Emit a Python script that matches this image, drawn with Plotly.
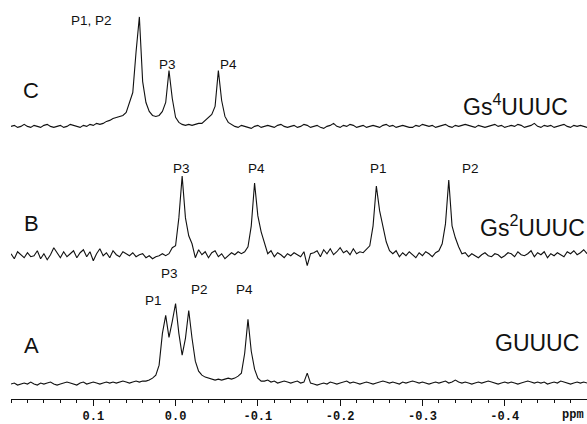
import numpy as np
import plotly.graph_objects as go

# ---- data -----------------------------------------------------------------
# Spectra sampled on a uniform chemical-shift grid (ppm), starting at 0.20 and
# stepping 0.004 ppm. Intensities are relative to each trace's own baseline.
PPM_START = 0.20
PPM_STEP = 0.004

trace_names = ["C", "B", "A"]
sequence_labels = ["Gs<sup>4</sup>UUUC", "Gs<sup>2</sup>UUUC", "GUUUC"]

intensity_C = [
    0, 1, -1, 0, 2, 0, -1, 1, 0, -1, 1, 2, 0, -1, 0, 1, -1, 0, 2, 1,
    0, -1, 1, 0, 2, 1, 3, 2,
    3, 5, 6, 8, 9, 10, 11, 14, 24, 34,
    75, 110, 45, 24, 15, 11, 10, 11, 15, 24,
    56, 28, 9, 4, 2, 1, 2, 1, 2, 3,
    3, 6, 10, 12, 20, 56, 26, 10, 4, 2,
    0, -1, 1, 0, -1, -2, 0, 1, -1, 0, 1, 0, -1, 1, 2, 0, -1, 0, 1, -1,
    0, 2, 1, -1, 0, 1, -1, -2, 0, 1, 3, 0, -1, 1, 0, 2, 1, -1, 0, 1,
    -1, 0, 1, 0, -1, 1, 2, 0, 1, -1, 0, 1, 0, -1, -1, 1, 0, 2, 1, 0,
    1, -1, 0, 1, 2, 0, -1, 1, 0, 1, 2, 1, 0, -1, 1, 0, -1, 0, 1, 2,
    0, 1, -1, 0, 1, 0, 2, 1, -1, 0, 1, 3, 0, -1, 1, 0, 1, -1, 0, 1,
    2, 0, -1, 1, 0, 1, 0, -1,
]

intensity_B = [
    2, -3, 4, 1, -2, 3, -1, 0, 5, -3, 2, -4, 1, 8, 3, -2, 4, -1, 2, 5,
    -2, 3, 6, -1, 4, -5, 2, 7, 0, 3, -2, 5, 1, -1, 4, 2, 0, 3, -1, 1,
    2, -2, 0, -3, -1, 0, 2,
    0, 2, 8, 10, 38, 80, 38, 20, 12, -2,
    6, 1, 4, -2, 3, 5, -1, 2, -3, 0, 3, 1, 4, 2,
    4, 9, 30, 73, 40, 24, 12, 2,
    5, -1, 3, 1, -2, 2, 0, 3, 1, -1, 4, -10, 2,
    3, 5, -1, 6, 2, 7, 1, 4, 8, 3, 5, 1, 7, 2, 4, 3,
    6, 10, 30, 70, 45, 28, 14, 5,
    2, 5, -1, 3, 0, 4, 1, -2, 3, 0, 4, 2, -1, 3,
    5, 12, 32, 76, 30, 18, 9, 2,
    3, -1, 2, 0, -2, 1, 3, 0, -1, 2, 1, -2, 0, 3, 2, -1, 4, 1, 0, 2,
    5, -1, 3, 1, 4, -2, 2, 0, 3, 1, -1, 4, 2, 5, 1, 3, 6, 2,
]

intensity_A = [
    -1, 0, -2, -1, 0, -1, 1, -1, -2, 0, -1, 0, 1, -1, -2, -1, 0, 1, 0, -1,
    -2, 0, 1, -1, 0, 1, 0, -1, 0, 1, 0, 1, 0, 1, 2, 1, 0, 1, 2, 1,
    2, 2, 3, 5, 8, 18, 50, 68, 46, 62,
    80, 50, 28, 45, 73, 45, 22, 12, 8, 6,
    5, 4, 3, 4, 3, 4, 5, 4, 5, 7,
    10, 30, 64, 32, 14, 5, 2,
    2, 3, 1, 2, 0, 1, 2, 1, 0, 1, 2, 0, 1,
    10,
    0, -1, -2, -1, 0, -1, 1, 0, -1, 0, 1, 2, 0, 1, 0, -1, 0, 1, 0, -1,
    0, 1, 2, 1, 0, 1, 0, -1, 1, 0, 1, 2, 1, 0, 1, 0, -1, 0, 1, 0,
    1, 2, 0, 1, 3, 1, 0, 1, 0, -1, 0, 1, 0, 1, 2, 1, 0, -1, 0, 1,
    0, 1, 0, -1, 0, 1, 2, 1, 0, 1, 0, 1, -1, 0, 1, 0, 2, 1, 0, -1,
    0, 1, 0, 1, 0,
]

# peak assignment labels: (label, ppm, label height above trace baseline)
peak_labels_C = ["P1, P2", "P3", "P4"]
peak_ppm_C = [0.1027, 0.0094, -0.0648]
peak_lbl_h_C = [106, 62, 62]

peak_labels_B = ["P3", "P4", "P1", "P2"]
peak_ppm_B = [-0.0077, -0.098, -0.2467, -0.3588]
peak_lbl_h_B = [88, 88, 88, 88]

peak_labels_A = ["P3", "P1", "P2", "P4"]
peak_ppm_A = [0.0073, 0.0267, -0.0292, -0.0838]
peak_lbl_h_A = [110, 83, 94, 94]

tick_vals = [0.1, 0.0, -0.1, -0.2, -0.3, -0.4]
tick_text = ["0.1", "0.0", "-0.1", "-0.2", "-0.3", "-0.4"]

# ---- layout constants ------------------------------------------------------
offsets = {"C": 274, "B": 144, "A": 16}
spectra = {"C": intensity_C, "B": intensity_B, "A": intensity_A}
for k, v in spectra.items():
    assert len(v) == 176, (k, len(v))

SANS = "Liberation Sans, Arial, Helvetica, sans-serif"
MONO = "Liberation Mono, Courier New, monospace"
PLOT_H = 401  # plot area height in px (y data units == px)

fig = go.Figure()
for name in trace_names:
    vals = np.array(spectra[name], dtype=float)
    ppm = PPM_START - PPM_STEP * np.arange(len(vals))
    fig.add_trace(go.Scatter(
        x=ppm, y=vals + offsets[name], mode="lines",
        line=dict(color="#111111", width=1.1), showlegend=False,
        hoverinfo="skip",
    ))

annotations = []
for name, yv in zip(trace_names, [310, 176, 54]):
    annotations.append(dict(x=0.1753, y=yv, text=name, showarrow=False,
                            font=dict(family=SANS, size=22, color="#111")))
for lbl, xv, yv in zip(sequence_labels, [-0.3463, -0.367, -0.3852], [295, 173.5, 56]):
    annotations.append(dict(x=xv, y=yv, text=lbl, showarrow=False, xanchor="left",
                            font=dict(family=SANS, size=23, color="#111")))
for labels, ppms, hs, name in [(peak_labels_C, peak_ppm_C, peak_lbl_h_C, "C"),
                               (peak_labels_B, peak_ppm_B, peak_lbl_h_B, "B"),
                               (peak_labels_A, peak_ppm_A, peak_lbl_h_A, "A")]:
    for lbl, p, h in zip(labels, ppms, hs):
        annotations.append(dict(x=p, y=offsets[name] + h, text=lbl, showarrow=False,
                                font=dict(family=SANS, size=13.5, color="#111")))
annotations.append(dict(x=-0.4824, xref="x", y=-16 / PLOT_H, yref="paper",
                        yanchor="middle", text="ppm", showarrow=False,
                        font=dict(family=MONO, size=12, color="#111", weight="bold")))

fig.update_layout(
    width=587, height=424,
    margin=dict(l=11, r=0, t=0, b=424 - PLOT_H),
    paper_bgcolor="white", plot_bgcolor="white",
    annotations=annotations,
    xaxis=dict(
        range=[0.2, -0.5], showgrid=False, zeroline=False,
        showline=True, linecolor="#111", linewidth=1,
        tickmode="array", tickvals=tick_vals, ticktext=tick_text,
        ticks="outside", ticklen=6, tickwidth=1, tickcolor="#111",
        tickfont=dict(family=MONO, size=12, color="#111", weight="bold"),
        minor=dict(tickmode="linear", tick0=0, dtick=0.02, ticks="outside",
                   ticklen=3, tickwidth=1, tickcolor="#111", showgrid=False),
    ),
    yaxis=dict(range=[0, PLOT_H], visible=False, showgrid=False, zeroline=False),
)

# remove the default 8px page margin so the figure fills the window exactly
fig.write_html("out.html", config={"displayModeBar": False},
               post_script="document.body.style.margin='0';")
